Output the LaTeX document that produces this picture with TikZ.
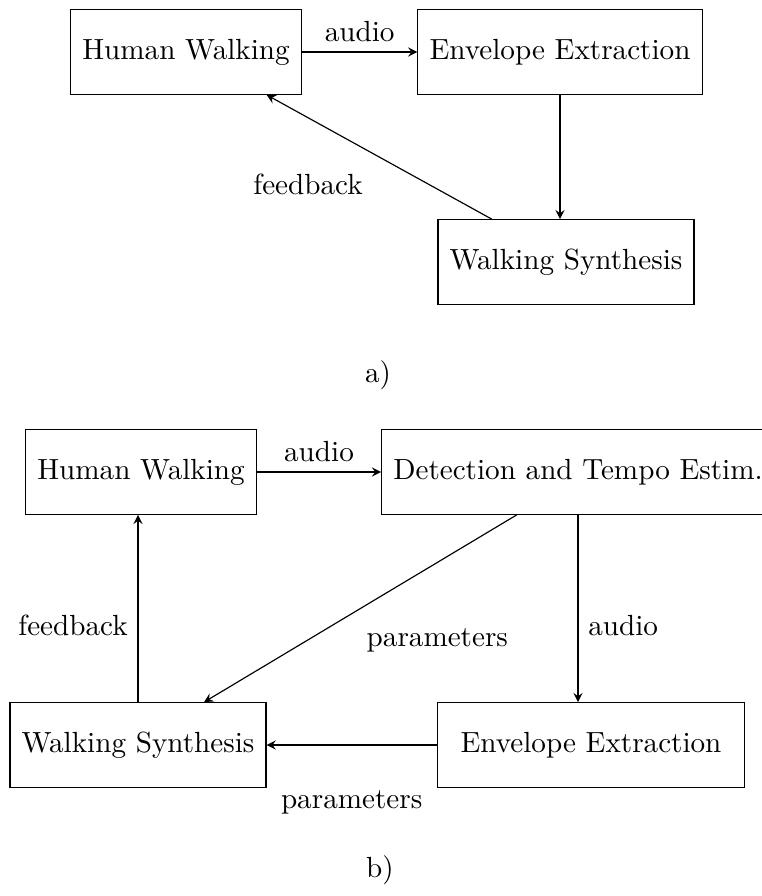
\documentclass[tikz,border=0pt]{standalone}
\usetikzlibrary{positioning}

\begin{document}
\begin{tikzpicture}[x=0.343pt,y=-0.343pt,
  block/.style={draw,minimum height=29pt,inner xsep=4pt},
  link/.style={->,>=stealth}]
 \useasboundingbox (0,0) rectangle (761,896);
 % a)
 \node[block] (hwa) at (186,52) {Human Walking};
 \node[block] (eea) at (560,52) {Envelope Extraction};
 \node[block] (wsa) at (566,262) {Walking Synthesis};
 \draw[link] (hwa) -- node[above] {audio} (eea);
 \draw[link] (eea.south) -- (eea.south |- wsa.north);
 \draw[link] (wsa.150) -- node[below left,pos=0.45,xshift=-6pt] {feedback} (hwa.-28);
 \node (laba) at (378,375) {a)};
 % b)
 \node[block] (hwb) at (141,472) {Human Walking};
 \node[block] (dtb) at (578,472) {Detection and Tempo Estim.};
 \node[block,inner xsep=8pt] (eeb) at (591,745) {Envelope Extraction};
 \node[block] (wsb) at (138,745) {Walking Synthesis};
 \draw[link] (hwb) -- node[above] {audio} (dtb);
 \draw[link] (dtb.south) -- node[right,pos=0.59] {audio} (dtb.south |- eeb.north);
 \draw[link] (dtb.215) -- node[below right,pos=0.55,xshift=4pt] {parameters} (wsb.33);
 \draw[link] (eeb) -- node[below=12pt] {parameters} (wsb);
 \draw[link] (wsb.north) -- node[left,pos=0.41] {feedback} (wsb.north |- hwb.south);
 \node (labb) at (380,870) {b)};
\end{tikzpicture}
\end{document}
